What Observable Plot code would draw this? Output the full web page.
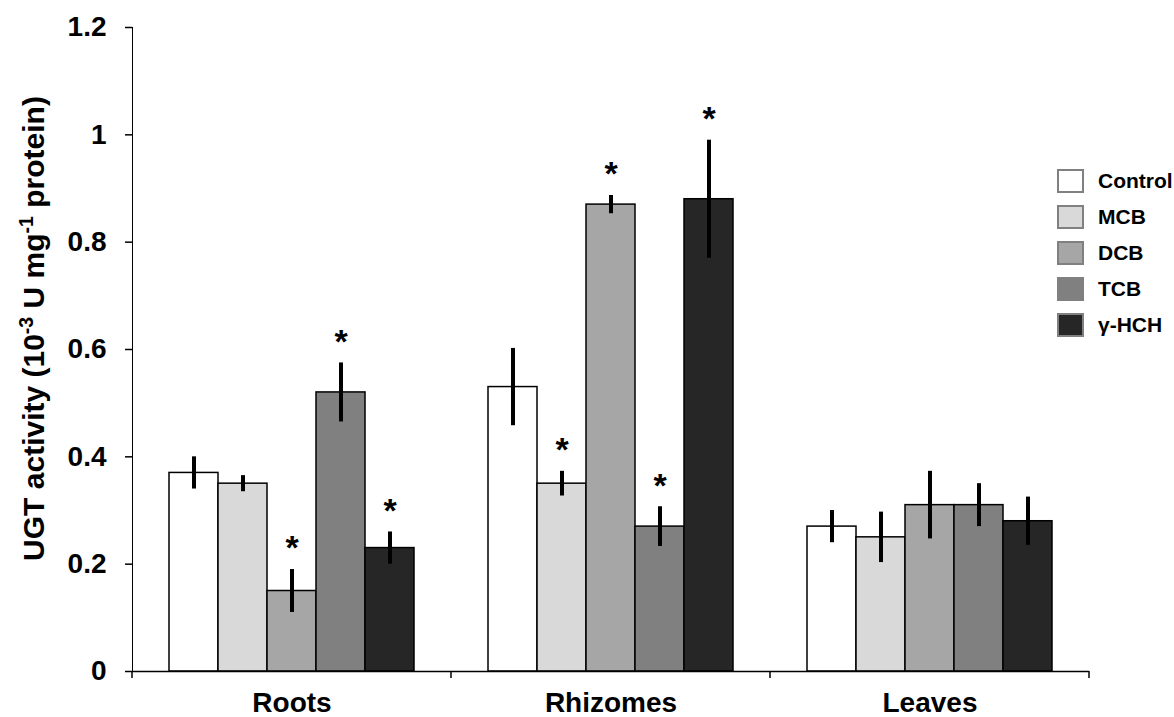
<!DOCTYPE html>
<html>
<head>
<meta charset="utf-8">
<script src="https://cdn.jsdelivr.net/npm/d3@7"></script>
<script src="https://cdn.jsdelivr.net/npm/@observablehq/plot@0.6"></script>
<style>
  body { margin: 0; background: white; }
  #wrap { position: relative; width: 1174px; height: 717px; font-family: 'Liberation Sans', Arial, sans-serif; }
  .legend { position: absolute; left: 1057px; top: 163px; font-weight: bold; font-size: 21px; color: black; }
  .legend .row { display: flex; align-items: center; height: 36px; }
  .legend .sw { width: 23px; height: 20px; border: 2px solid #808080; margin-right: 14px; }
</style>
</head>
<body>
<div id="wrap"></div>
<script>
const groups = ["Roots", "Rhizomes", "Leaves"];
const series = ["Control", "MCB", "DCB", "TCB", "γ-HCH"];
const colors = ["#ffffff", "#d9d9d9", "#a6a6a6", "#808080", "#262626"];

const rootsMean    = [0.37, 0.35, 0.15, 0.52, 0.23];
const rootsErr     = [0.03, 0.015, 0.04, 0.055, 0.03];
const rootsSig     = [false, false, true, true, true];
const rhizomesMean = [0.53, 0.35, 0.87, 0.27, 0.88];
const rhizomesErr  = [0.072, 0.023, 0.017, 0.037, 0.11];
const rhizomesSig  = [false, true, true, true, true];
const leavesMean   = [0.27, 0.25, 0.31, 0.31, 0.28];
const leavesErr    = [0.03, 0.047, 0.063, 0.04, 0.045];
const leavesSig    = [false, false, false, false, false];

const yTicks = [0, 0.2, 0.4, 0.6, 0.8, 1, 1.2];
const yTickLabels = ["0", "0.2", "0.4", "0.6", "0.8", "1", "1.2"];

const means = [rootsMean, rhizomesMean, leavesMean];
const errs = [rootsErr, rhizomesErr, leavesErr];
const sigs = [rootsSig, rhizomesSig, leavesSig];

const rows = [];
groups.forEach((g, gi) => series.forEach((s, si) => rows.push({
  group: g, series: s, value: means[gi][si], err: errs[gi][si], sig: sigs[gi][si]
})));

const font = "'Liberation Sans', Arial, sans-serif";

const chart = Plot.plot({
  width: 1174, height: 717,
  marginLeft: 131, marginRight: 84, marginTop: 27, marginBottom: 46,
  style: { fontFamily: font, fontSize: "28px", fontWeight: "bold", color: "black", background: "white", overflow: "visible" },
  fx: { domain: groups, padding: 0, label: null, tickSize: 0, tickPadding: 21 },
  x: { domain: series, paddingInner: 0, paddingOuter: 0.735, axis: null },
  y: { domain: [0, 1.2], ticks: yTicks, tickFormat: d => yTickLabels[yTicks.indexOf(d)], tickSize: 7, tickPadding: 19, line: true, label: null },
  color: { domain: series, range: colors },
  marks: [
    Plot.barY(rows, { fx: "group", x: "series", y: "value", fill: "series", stroke: "black", strokeWidth: 1.5 }),
    Plot.ruleX(rows, { fx: "group", x: "series", y1: d => d.value - d.err, y2: d => d.value + d.err, stroke: "black", strokeWidth: 4 }),
    Plot.text(rows.filter(d => d.sig), { fx: "group", x: "series", y: d => d.value + d.err, text: () => "*", dy: -21, fontSize: 34, fontWeight: "bold" }),
    Plot.ruleY([0], { stroke: "black", strokeWidth: 1.5 }),
    Plot.text([{ group: "Roots" }], { fx: "group", frameAnchor: "left", textAnchor: "middle", lineAnchor: "middle", text: () => "UGT activity (10-3 U mg-1 protein)", rotate: -90, dx: -98, dy: -21, fontSize: 30, fontWeight: "bold", className: "ylab" })
  ]
});

const svg = d3.select(chart);
svg.selectAll('g[aria-label="y-axis tick"]').attr("stroke-width", 1.5).attr("stroke", "black");
svg.selectAll('g[aria-label="y-axis line"]').attr("stroke-width", 1.5).attr("stroke", "black");
svg.selectAll('g[aria-label="fx-axis tick label"]').attr("font-size", 28);

// superscripts in y label
const lab = svg.select(".ylab text");
if (!lab.empty()) {
  lab.text(null);
  const parts = [["UGT activity (10", false], ["-3", true], [" U mg", false], ["-1", true], [" protein)", false]];
  parts.forEach(([t, sup]) => {
    const ts = lab.append("tspan").text(t);
    if (sup) ts.attr("font-size", "65%").attr("baseline-shift", "super");
  });
}

// group boundary ticks on the x axis
const fxs = chart.scale("fx");
const ys = chart.scale("y");
const edges = groups.map(g => fxs.apply(g)).concat([fxs.apply(groups[groups.length - 1]) + fxs.bandwidth]);
const y0 = ys.apply(0);
svg.append("g").attr("aria-label", "x boundary ticks")
  .selectAll("line").data(edges).join("line")
  .attr("x1", d => d).attr("x2", d => d)
  .attr("y1", y0).attr("y2", y0 + 7)
  .attr("stroke", "black").attr("stroke-width", 1.5);

const wrap = document.getElementById("wrap");
wrap.appendChild(chart);

const legend = document.createElement("div");
legend.className = "legend";
series.forEach((s, i) => {
  const row = document.createElement("div");
  row.className = "row";
  const sw = document.createElement("div");
  sw.className = "sw";
  sw.style.background = colors[i];
  const tx = document.createElement("span");
  tx.textContent = s;
  row.appendChild(sw);
  row.appendChild(tx);
  legend.appendChild(row);
});
wrap.appendChild(legend);
</script>
</body>
</html>
